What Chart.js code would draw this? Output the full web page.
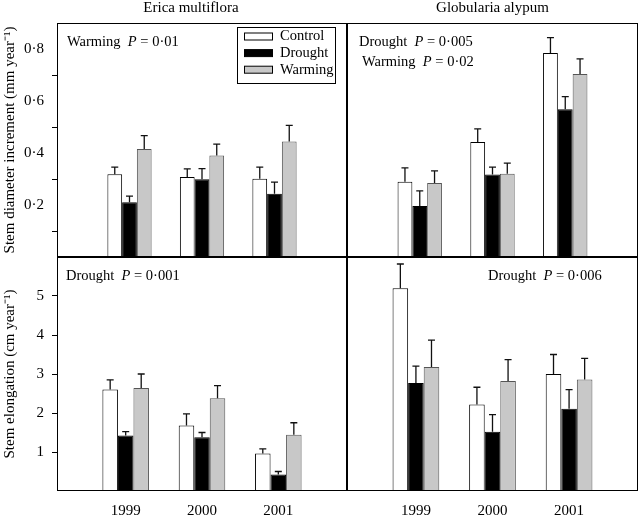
<!DOCTYPE html>
<html>
<head>
<meta charset="utf-8">
<script src="https://cdn.jsdelivr.net/npm/chart.js@4.4.0/dist/chart.umd.min.js"></script>
<style>
  body { margin: 0; background: #fff; }
  #wrap { position: relative; width: 640px; height: 515px; overflow: hidden; }
  canvas { position: absolute; }
</style>
</head>
<body>
<div id="wrap">
  <canvas id="tl" width="348" height="278" style="left:0px;top:0px"></canvas>
  <canvas id="tr" width="293" height="278" style="left:347px;top:0px"></canvas>
  <canvas id="bl" width="348" height="278" style="left:0px;top:237px"></canvas>
  <canvas id="br" width="293" height="278" style="left:347px;top:237px"></canvas>
</div>
<script>
var years = ['1999', '2000', '2001'];
var treatments = ['Control', 'Drought', 'Warming'];

// Erica multiflora - stem diameter increment (mm year-1)
var ericaDiamControl = [0.318, 0.308, 0.301];
var ericaDiamDrought = [0.211, 0.299, 0.243];
var ericaDiamWarming = [0.415, 0.390, 0.444];
var ericaDiamControlSE = [0.028, 0.031, 0.045];
var ericaDiamDroughtSE = [0.023, 0.041, 0.045];
var ericaDiamWarmingSE = [0.052, 0.044, 0.062];

// Globularia alypum - stem diameter increment
var globDiamControl = [0.289, 0.442, 0.785];
var globDiamDrought = [0.196, 0.317, 0.568];
var globDiamWarming = [0.285, 0.320, 0.704];
var globDiamControlSE = [0.054, 0.051, 0.059];
var globDiamDroughtSE = [0.058, 0.029, 0.049];
var globDiamWarmingSE = [0.046, 0.041, 0.058];

// Erica multiflora - stem elongation (cm year-1)
var ericaElongControl = [2.60, 1.68, 0.96];
var ericaElongDrought = [1.42, 1.38, 0.42];
var ericaElongWarming = [2.64, 2.38, 1.44];
var ericaElongControlSE = [0.25, 0.30, 0.12];
var ericaElongDroughtSE = [0.10, 0.12, 0.08];
var ericaElongWarmingSE = [0.36, 0.32, 0.31];

// Globularia alypum - stem elongation
var globElongControl = [5.20, 2.22, 3.00];
var globElongDrought = [2.77, 1.52, 2.11];
var globElongWarming = [3.18, 2.82, 2.86];
var globElongControlSE = [0.62, 0.44, 0.50];
var globElongDroughtSE = [0.43, 0.44, 0.49];
var globElongWarmingSE = [0.69, 0.55, 0.54];

var diamTicks = ['0·2', '0·4', '0·6', '0·8'];
var elongTicks = ['1', '2', '3', '4', '5'];

var FONT = '"Liberation Serif", "Times New Roman", serif';
var fills = ['#ffffff', '#000000', '#c8c8c8'];
var borders = ['#000000', '#000000', '#555555'];

Chart.defaults.font.family = FONT;
Chart.defaults.color = '#000';

function points(arr) {
    return arr.map(function (v, i) { return { x: i + 1, y: v }; });
}

function makeSets(c, d, w, cSE, dSE, wSE) {
    var vals = [c, d, w];
    var errs = [cSE, dSE, wSE];
    return treatments.map(function (t, k) {
        return {
            label: t,
            data: points(vals[k]),
            errors: errs[k],
            backgroundColor: fills[k],
            borderColor: borders[k],
            borderWidth: 1,
            categoryPercentage: 0.61,
            barPercentage: 1
        };
    });
}

function drawRuns(ctx, x, y, runs, size) {
    runs.forEach(function (r) {
        ctx.font = (r.i ? 'italic ' : '') + size + 'px ' + FONT;
        ctx.fillText(r.t, x, y);
        x += ctx.measureText(r.t).width;
    });
}

// box round the plot, error bars, and the text notes
function panelPlugin(notes, title, legend) {
    return {
        id: 'panel',
        afterDatasetsDraw: function (chart) {
            var ctx = chart.ctx;
            var ys = chart.scales.y;
            ctx.save();
            chart.data.datasets.forEach(function (ds, i) {
                var meta = chart.getDatasetMeta(i);
                meta.data.forEach(function (bar, j) {
                    var top = ys.getPixelForValue(ds.data[j].y + ds.errors[j]);
                    ctx.strokeStyle = '#111';
                    ctx.lineWidth = 1.3;
                    ctx.beginPath();
                    ctx.moveTo(bar.x, bar.y);
                    ctx.lineTo(bar.x, top);
                    ctx.moveTo(bar.x - 3.5, top);
                    ctx.lineTo(bar.x + 3.5, top);
                    ctx.stroke();
                });
            });
            ctx.restore();
        },
        afterDraw: function (chart) {
            var ctx = chart.ctx;
            var a = chart.chartArea;
            ctx.save();
            ctx.strokeStyle = '#000';
            ctx.lineWidth = 1;
            ctx.strokeRect(a.left + 0.5, a.top + 0.5, a.right - a.left - 1, a.bottom - a.top - 1);
            ctx.fillStyle = '#000';
            ctx.textBaseline = 'middle';
            ctx.textAlign = 'left';
            notes.forEach(function (n) {
                drawRuns(ctx, n.x, n.y, [{ t: n.word + '  ' }, { t: 'P', i: true }, { t: ' = ' + n.p }], 14.5);
            });
            if (title) {
                ctx.textAlign = 'center';
                ctx.font = '15px ' + FONT;
                ctx.fillText(title.text, title.x, title.y);
            }
            if (legend) {
                ctx.textAlign = 'left';
                ctx.strokeStyle = '#000';
                ctx.strokeRect(237.5, 27.5, 98, 56);
                chart.data.datasets.forEach(function (ds, k) {
                    var cy = 36.5 + k * 16.6;
                    ctx.fillStyle = ds.backgroundColor;
                    ctx.fillRect(244, cy - 3.5, 29, 7);
                    ctx.strokeStyle = '#000';
                    ctx.lineWidth = 1;
                    ctx.strokeRect(244.5, cy - 3.5, 28, 7);
                    ctx.fillStyle = '#000';
                    ctx.font = '14.5px ' + FONT;
                    ctx.fillText(ds.label, 280, cy);
                });
            }
            ctx.restore();
        }
    };
}

function yScale(isTop, showAxis, titleText) {
    return {
        min: 0,
        max: isTop ? 0.9 : 6,
        display: showAxis,
        border: { display: false },
        grid: {
            drawOnChartArea: false,
            tickLength: 5,
            tickWidth: 1,
            tickColor: function (c) {
                var v = c.tick ? c.tick.value : 0;
                if (isTop) {
                    var n = Math.round(v * 10);
                    return (n % 2 === 1 && n < 9) ? '#000' : 'rgba(0,0,0,0)';
                }
                return (v > 0 && v < 6) ? '#000' : 'rgba(0,0,0,0)';
            }
        },
        ticks: {
            stepSize: isTop ? 0.1 : 1,
            autoSkip: false,
            padding: 8,
            color: '#000',
            font: { size: 15, family: FONT },
            callback: function (v) {
                if (isTop) {
                    var n = Math.round(v * 10);
                    return (n % 2 === 0 && n > 0 && n < 9) ? diamTicks[n / 2 - 1] : '';
                }
                return (v > 0 && v < 6) ? elongTicks[v - 1] : '';
            }
        },
        title: {
            display: true,
            text: titleText,
            color: '#000',
            font: { size: 15, family: FONT },
            padding: { top: 1, bottom: 0 }
        },
        afterFit: function (scale) { if (showAxis) scale.width = 57; }
    };
}

function xScale(isTop) {
    return {
        type: 'linear',
        min: isTop ? 0 : 0.1,
        max: isTop ? 4 : 3.9,
        offset: false,
        display: !isTop,
        border: { display: false },
        grid: { display: false, offset: false, drawTicks: false, tickLength: 0 },
        afterBuildTicks: function (scale) {
            scale.ticks = years.map(function (y, i) { return { value: i + 1 }; });
        },
        ticks: {
            autoSkip: false,
            maxRotation: 0,
            padding: 11,
            color: '#000',
            font: { size: 15, family: FONT },
            callback: function (v) { return years[Math.round(v) - 1] || ''; }
        },
        afterFit: function (scale) { if (!isTop) scale.height = 24; }
    };
}

function makeChart(id, sets, isTop, isLeft, padding, plugin, yTitle) {
    new Chart(document.getElementById(id), {
        type: 'bar',
        data: { datasets: sets },
        options: {
            responsive: false,
            animation: false,
            devicePixelRatio: 1,
            layout: { padding: padding },
            plugins: { legend: { display: false }, tooltip: { enabled: false } },
            scales: {
                x: xScale(isTop),
                y: yScale(isTop, isLeft, yTitle)
            }
        },
        plugins: [plugin]
    });
}

makeChart('tl',
    makeSets(ericaDiamControl, ericaDiamDrought, ericaDiamWarming, ericaDiamControlSE, ericaDiamDroughtSE, ericaDiamWarmingSE),
    true, true, { top: 23, right: 1, bottom: 21, left: 0 },
    panelPlugin([{ x: 67, y: 42, word: 'Warming', p: '0·01' }], { text: 'Erica multiflora', x: 191, y: 8 }, true),
    'Stem diameter increment (mm year⁻¹)');

makeChart('tr',
    makeSets(globDiamControl, globDiamDrought, globDiamWarming, globDiamControlSE, globDiamDroughtSE, globDiamWarmingSE),
    true, false, { top: 23, right: 2, bottom: 21, left: 0 },
    panelPlugin([{ x: 12, y: 42, word: 'Drought', p: '0·005' }, { x: 15, y: 62, word: 'Warming', p: '0·02' }],
        { text: 'Globularia alypum', x: 145.5, y: 8 }, false),
    '');

makeChart('bl',
    makeSets(ericaElongControl, ericaElongDrought, ericaElongWarming, ericaElongControlSE, ericaElongDroughtSE, ericaElongWarmingSE),
    false, true, { top: 20, right: 1, bottom: 0, left: 0 },
    panelPlugin([{ x: 66, y: 39, word: 'Drought', p: '0·001' }], null, false),
    'Stem elongation (cm year⁻¹)');

makeChart('br',
    makeSets(globElongControl, globElongDrought, globElongWarming, globElongControlSE, globElongDroughtSE, globElongWarmingSE),
    false, false, { top: 20, right: 2, bottom: 0, left: 0 },
    panelPlugin([{ x: 141, y: 39, word: 'Drought', p: '0·006' }], null, false),
    '');
</script>
</body>
</html>
